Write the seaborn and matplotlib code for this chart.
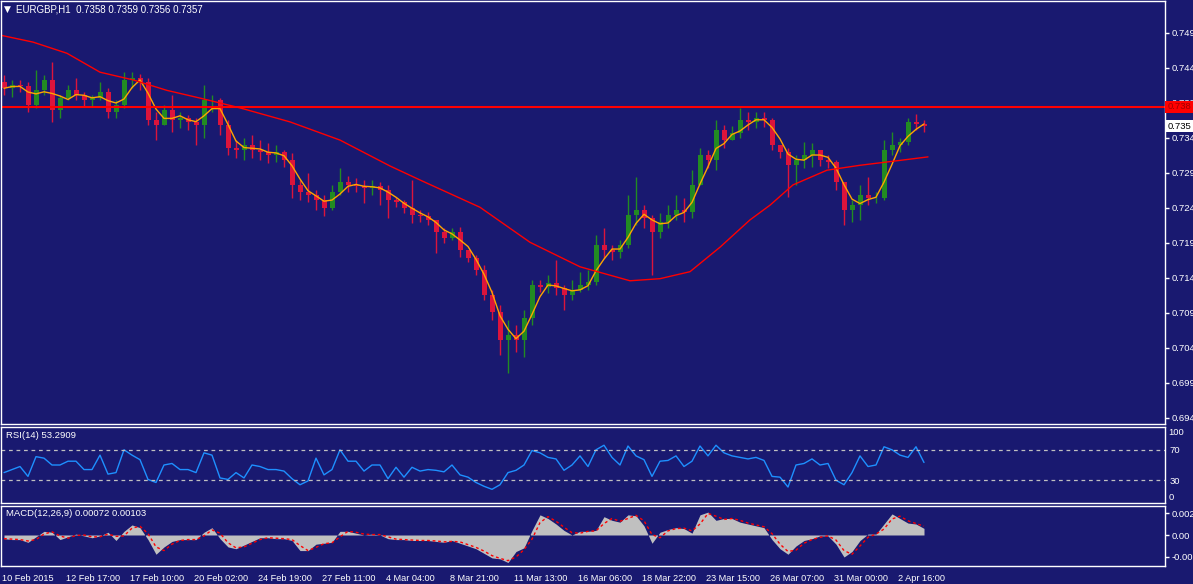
import numpy as np
import pandas as pd
import matplotlib
matplotlib.use("Agg")
import matplotlib.pyplot as plt
import matplotlib.transforms as mtransforms
import seaborn as sns

# ==============================
#       Chart data (EURGBP, H1, grouped in 8-bar candles)
# ==============================

first_open = 0.7420

closes = [
    0.7411, 0.7416, 0.7414, 0.7387, 0.7408, 0.7423, 0.7380, 0.7397, 0.7408, 0.7401,
    0.7394, 0.7397, 0.7406, 0.7377, 0.7387, 0.7423, 0.7426, 0.7420, 0.7366, 0.7358,
    0.7380, 0.7366, 0.7369, 0.7363, 0.7358, 0.7394, 0.7394, 0.7358, 0.7326, 0.7323,
    0.7330, 0.7323, 0.7320, 0.7316, 0.7320, 0.7308, 0.7273, 0.7263, 0.7258, 0.7251,
    0.7240, 0.7263, 0.7277, 0.7273, 0.7271, 0.7269, 0.7271, 0.7266, 0.7251, 0.7249,
    0.7240, 0.7230, 0.7229, 0.7223, 0.7206, 0.7197, 0.7206, 0.7180, 0.7169, 0.7151,
    0.7116, 0.7091, 0.7051, 0.7058, 0.7051, 0.7083, 0.7130, 0.7127, 0.7133, 0.7126,
    0.7116, 0.7123, 0.7130, 0.7134, 0.7187, 0.7180, 0.7177, 0.7187, 0.7230, 0.7237,
    0.7226, 0.7206, 0.7220, 0.7230, 0.7237, 0.7234, 0.7273, 0.7316, 0.7308, 0.7351,
    0.7337, 0.7347, 0.7366, 0.7363, 0.7369, 0.7366, 0.7330, 0.7320, 0.7301, 0.7308,
    0.7316, 0.7323, 0.7308, 0.7306, 0.7277, 0.7237, 0.7244, 0.7258, 0.7254, 0.7254,
    0.7323, 0.7330, 0.7334, 0.7363, 0.7360, 0.7357,
]

highs = [
    0.7430, 0.7423, 0.7423, 0.7420, 0.7437, 0.7430, 0.7449, 0.7401, 0.7416, 0.7426,
    0.7406, 0.7401, 0.7420, 0.7411, 0.7394, 0.7434, 0.7434, 0.7431, 0.7426, 0.7377,
    0.7387, 0.7401, 0.7377, 0.7373, 0.7369, 0.7416, 0.7401, 0.7397, 0.7366, 0.7337,
    0.7340, 0.7344, 0.7337, 0.7333, 0.7330, 0.7323, 0.7319, 0.7280, 0.7290, 0.7266,
    0.7258, 0.7273, 0.7297, 0.7286, 0.7283, 0.7280, 0.7280, 0.7277, 0.7273, 0.7256,
    0.7251, 0.7280, 0.7237, 0.7234, 0.7223, 0.7211, 0.7211, 0.7213, 0.7180, 0.7173,
    0.7158, 0.7123, 0.7101, 0.7080, 0.7073, 0.7094, 0.7137, 0.7137, 0.7144, 0.7166,
    0.7130, 0.7137, 0.7149, 0.7151, 0.7201, 0.7211, 0.7187, 0.7194, 0.7258, 0.7284,
    0.7244, 0.7230, 0.7233, 0.7244, 0.7258, 0.7254, 0.7294, 0.7326, 0.7323, 0.7366,
    0.7358, 0.7357, 0.7383, 0.7377, 0.7377, 0.7377, 0.7369, 0.7330, 0.7326, 0.7316,
    0.7334, 0.7333, 0.7323, 0.7316, 0.7308, 0.7277, 0.7251, 0.7273, 0.7284, 0.7263,
    0.7337, 0.7349, 0.7340, 0.7369, 0.7374, 0.7366,
]

lows = [
    0.7401, 0.7399, 0.7406, 0.7377, 0.7383, 0.7401, 0.7363, 0.7369, 0.7394, 0.7394,
    0.7386, 0.7386, 0.7394, 0.7369, 0.7369, 0.7383, 0.7411, 0.7408, 0.7358, 0.7337,
    0.7358, 0.7349, 0.7354, 0.7351, 0.7330, 0.7340, 0.7377, 0.7344, 0.7316, 0.7311,
    0.7308, 0.7311, 0.7308, 0.7304, 0.7306, 0.7299, 0.7254, 0.7251, 0.7249, 0.7237,
    0.7229, 0.7237, 0.7258, 0.7263, 0.7263, 0.7247, 0.7258, 0.7244, 0.7226, 0.7241,
    0.7233, 0.7219, 0.7220, 0.7216, 0.7176, 0.7190, 0.7194, 0.7170, 0.7163, 0.7144,
    0.7108, 0.7080, 0.7030, 0.7004, 0.7034, 0.7027, 0.7073, 0.7120, 0.7119, 0.7116,
    0.7094, 0.7108, 0.7120, 0.7123, 0.7130, 0.7169, 0.7166, 0.7169, 0.7183, 0.7216,
    0.7211, 0.7144, 0.7197, 0.7211, 0.7223, 0.7220, 0.7226, 0.7273, 0.7297, 0.7294,
    0.7326, 0.7337, 0.7340, 0.7351, 0.7354, 0.7356, 0.7323, 0.7311, 0.7256, 0.7273,
    0.7297, 0.7299, 0.7300, 0.7297, 0.7266, 0.7216, 0.7220, 0.7223, 0.7244, 0.7247,
    0.7251, 0.7316, 0.7320, 0.7330, 0.7351, 0.7349,
]

rsi = [
    40, 44, 48, 35, 61, 59, 50, 50, 55, 55, 44, 44, 63, 38, 40, 70, 63, 57, 31, 27,
    50, 52, 44, 44, 40, 66, 63, 33, 31, 40, 33, 50, 48, 44, 44, 42, 32, 24, 29, 59,
    37, 44, 70, 55, 55, 42, 50, 50, 32, 47, 34, 47, 42, 44, 43, 41, 50, 37, 34, 27,
    22, 18, 24, 40, 43, 50, 69, 66, 60, 58, 43, 50, 62, 48, 70, 76, 60, 50, 75, 62,
    57, 35, 55, 56, 62, 48, 55, 75, 62, 76, 66, 62, 60, 58, 60, 56, 35, 34, 21, 50,
    52, 58, 50, 52, 30, 24, 40, 62, 48, 50, 74, 70, 63, 60, 74, 53.3,
]

macd = [
    -0.0004, -0.0005, -0.0005, -0.0008, -0.0002, 0.0004, 0.0003, -0.0005, -0.0002, 0.0001,
    -0.0001, -0.0003, -0.0001, 0.0003, -0.0006, 0.0004, 0.0011, 0.0008, -0.0005, -0.0021,
    -0.0013, -0.0007, -0.0005, -0.0005, -0.0005, 0.0003, 0.0008, -0.0004, -0.0013, -0.0015,
    -0.0011, -0.0007, -0.0003, -0.0003, -0.0004, -0.0004, -0.0006, -0.0017, -0.0017, -0.0010,
    -0.0009, -0.0008, 0.0004, 0.0004, 0.0002, 0.0000, 0.0001, 0.0000, -0.0004, -0.0005,
    -0.0005, -0.0006, -0.0006, -0.0006, -0.0007, -0.0008, -0.0006, -0.0009, -0.0012, -0.0015,
    -0.0020, -0.0025, -0.0026, -0.0030, -0.0018, -0.0014, 0.0005, 0.0022, 0.0018, 0.0012,
    0.0005, 0.0000, 0.0004, 0.0004, 0.0005, 0.0020, 0.0016, 0.0014, 0.0022, 0.0021,
    0.0010, -0.0009, 0.0003, 0.0006, 0.0008, 0.0007, 0.0002, 0.0022, 0.0025, 0.0016,
    0.0018, 0.0018, 0.0014, 0.0012, 0.0010, 0.0008, -0.0005, -0.0015, -0.0021, -0.0012,
    -0.0006, -0.0004, -0.0001, -0.0001, -0.0010, -0.0024, -0.0018, -0.0006, 0.0001, 0.0001,
    0.0012, 0.0023, 0.0018, 0.0013, 0.0012, 0.00072,
]

# slow moving average, read at a few hourly bar positions
ma_slow_bar = [0, 33, 67, 100, 133, 167, 200, 240, 290, 340, 390, 420, 480, 530,
               580, 630, 660, 690, 720, 750, 770, 793, 827, 860, 900, 928]
ma_slow = [0.7487, 0.7477, 0.7461, 0.7434, 0.7423, 0.7408, 0.7397, 0.7383, 0.7363,
           0.7337, 0.7300, 0.7280, 0.7241, 0.7191, 0.7156, 0.7136, 0.7139, 0.7149,
           0.7184, 0.7223, 0.7244, 0.7273, 0.7294, 0.7301, 0.7308, 0.7313]

level_line = 0.73843
last_bar = [0.7358, 0.7359, 0.7356, 0.7357]
rsi_last = 53.2909
macd_last, signal_last = 0.00072, 0.00103

price_ticks = [0.749, 0.744, 0.739, 0.734, 0.729, 0.724, 0.719, 0.714, 0.709,
               0.704, 0.699, 0.694]
date_labels = ['10 Feb 2015', '12 Feb 17:00', '17 Feb 10:00', '20 Feb 02:00',
               '24 Feb 19:00', '27 Feb 11:00', '4 Mar 04:00', '8 Mar 21:00',
               '11 Mar 13:00', '16 Mar 06:00', '18 Mar 22:00', '23 Mar 15:00',
               '26 Mar 07:00', '31 Mar 00:00', '2 Apr 16:00']

# ==============================
#       Style
# ==============================

BG = '#191970'
FG = '#FFFFFF'
BULL = '#228B22'
BEAR = '#DC143C'
FS = 6.8

sns.set_theme(style='dark', rc={'axes.facecolor': BG, 'figure.facecolor': BG,
                                'axes.edgecolor': FG, 'axes.grid': False})
plt.rcParams['font.family'] = ['Liberation Sans', 'DejaVu Sans']
plt.rcParams['font.size'] = FS

W, H = 1193, 584
fig = plt.figure(figsize=(W / 100, H / 100), dpi=100, facecolor=BG)


def px_axes(x0, y0, x1, y1):
    return fig.add_axes([x0 / W, 1 - y1 / H, (x1 - x0) / W, (y1 - y0) / H])


ax = px_axes(1, 1, 1165, 424)
ax_rsi = px_axes(1, 427, 1165, 503)
ax_macd = px_axes(1, 506, 1165, 566)

step = 8
n = len(closes)
x = np.arange(n) * step + step / 2
c = np.array(closes)
o = np.r_[first_open, c[:-1]]
hi = np.maximum(np.array(highs), np.maximum(o, c))
lo = np.minimum(np.array(lows), np.minimum(o, c))
colors = np.where(c >= o, BULL, BEAR)

# ==============================
#       Price panel
# ==============================

ax.vlines(x, lo, hi, colors=colors, lw=1)
ax.bar(x, c - o, bottom=o, width=5, color=colors, linewidth=0)

ma_fast = pd.Series(c).rolling(3, min_periods=1).mean()
sns.lineplot(x=x, y=ma_fast, ax=ax, color='#FFA500', lw=1)
sns.lineplot(x=ma_slow_bar, y=ma_slow, ax=ax, color='#FF0000', lw=1)
ax.axhline(level_line, color='#FF0000', lw=1.5)

ax.set_xlim(1, 1165)
ax.set_ylim(0.69314, 0.75357)
ax.set_yticks(price_ticks)
ax.set_yticklabels([f'{v:.4f}'[:5] for v in price_ticks])
ax.set_xticks([])

trans = mtransforms.blended_transform_factory(ax.transAxes, ax.transData)
ax.text(1.002, level_line, f'{level_line:.4f}'[:5], transform=trans, ha='left',
        va='center', color='#A00000', fontsize=FS, zorder=5,
        bbox=dict(boxstyle='square,pad=0.2', fc='#FF0000', ec='none'))
ax.text(1.002, last_bar[3], f'{last_bar[3]:.4f}'[:5], transform=trans, ha='left',
        va='center', color='#000000', fontsize=FS, zorder=5,
        bbox=dict(boxstyle='square,pad=0.2', fc='#FFFFFF', ec='none'))

fig.text(4 / W, 1 - 9 / H, '\u25BC', color=FG, fontsize=6.5, va='center',
         family=['DejaVu Sans'])
fig.text(16 / W, 1 - 9 / H,
         'EURGBP,H1  ' + ' '.join(f'{v:.4f}' for v in last_bar),
         color=FG, fontsize=7, va='center')

# ==============================
#       RSI panel
# ==============================

sns.lineplot(x=x, y=rsi, ax=ax_rsi, color='#1E90FF', lw=1)
for lvl in (30, 70):
    ax_rsi.axhline(lvl, color='#C0C0C0', lw=0.9, ls=(0, (3, 3)))
ax_rsi.set_xlim(1, 1165)
ax_rsi.set_ylim(0, 100)
ax_rsi.set_yticks([30, 70])
ax_rsi.set_yticklabels(['30', '70'])
ax_rsi.set_xticks([])
rtrans = mtransforms.blended_transform_factory(ax_rsi.transAxes, ax_rsi.transData)
ax_rsi.text(1.003, 99, '100', transform=rtrans, ha='left', va='top', color=FG,
            fontsize=FS, clip_on=False)
ax_rsi.text(1.003, 1, '0', transform=rtrans, ha='left', va='bottom', color=FG,
            fontsize=FS, clip_on=False)
fig.text(6 / W, 1 - 435 / H, f'RSI(14) {rsi_last:.4f}', color=FG, fontsize=FS,
         va='center')

# ==============================
#       MACD panel
# ==============================

m = np.array(macd)
signal = pd.Series(m).rolling(2, min_periods=1).mean()
ax_macd.fill_between(x, 0, m, color='#C0C0C0', lw=0)
sns.lineplot(x=x, y=signal, ax=ax_macd, color='#FF0000', lw=1,
             linestyle=(0, (2, 2)))
ax_macd.set_xlim(1, 1165)
ax_macd.set_ylim(-0.003382, 0.003164)
ax_macd.set_yticks([-0.0024, 0.0, 0.0024])
ax_macd.set_yticklabels(['-0.0024', '0.00', '0.0024'])
fig.text(6 / W, 1 - 514 / H, f'MACD(12,26,9) {macd_last:.5f} {signal_last:.5f}',
         color=FG, fontsize=FS, va='center')

tick_pos = np.arange(len(date_labels)) * 64 + 2
ax_macd.set_xticks(tick_pos)
ax_macd.set_xticklabels(date_labels)
for lbl in ax_macd.get_xticklabels():
    lbl.set_ha('left')

for a in (ax, ax_rsi, ax_macd):
    a.yaxis.tick_right()
    a.set_xlabel('')
    a.set_ylabel('')
    a.tick_params(axis='y', colors=FG, labelcolor=FG, length=3, width=1, pad=1.5,
                  labelsize=FS)
    a.tick_params(axis='x', colors=FG, labelcolor=FG, length=4, width=1, pad=2,
                  labelsize=6.6)
    for s in a.spines.values():
        s.set_color(FG)
        s.set_linewidth(1)
    if a.get_legend() is not None:
        a.get_legend().remove()
ax_rsi.tick_params(axis='y', length=0, pad=3)

fig.savefig('out.png', dpi=100, facecolor=BG)
